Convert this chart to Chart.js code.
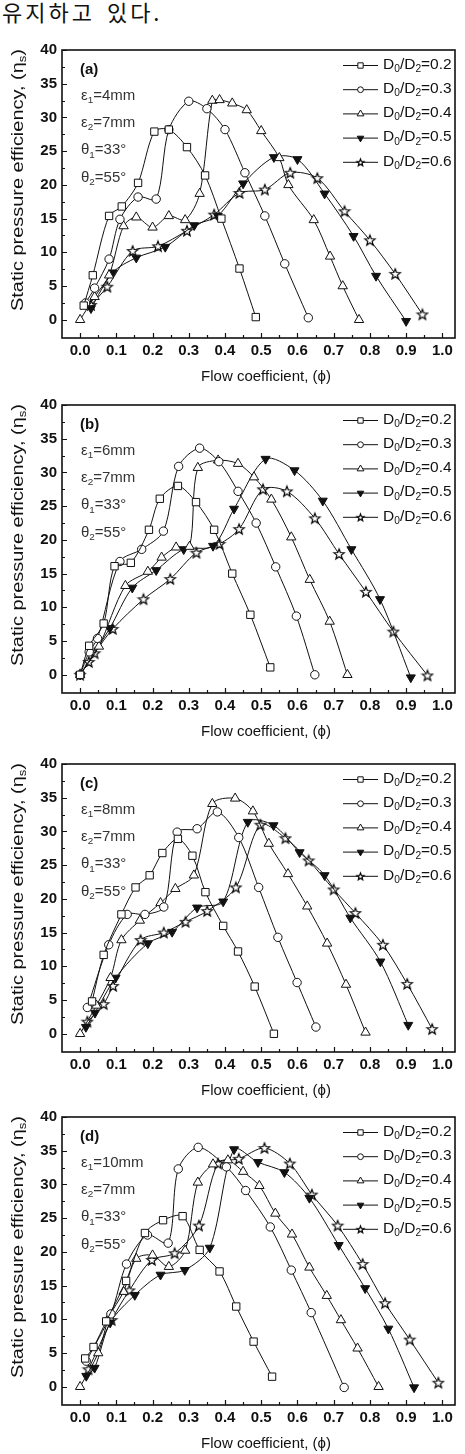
<!DOCTYPE html>
<html>
<head>
<meta charset="utf-8">
<script src="https://cdn.jsdelivr.net/npm/chart.js@4.4.1/dist/chart.umd.min.js"></script>
<style>
    html, body { margin: 0; padding: 0; background: #fff; }
    body { width: 465px; height: 1454px; position: relative; overflow: hidden; }
    #lead { position: absolute; left: 2px; top: 0; font: 22px "Noto Sans CJK KR", sans-serif; line-height: 22px;
            letter-spacing: 3px; word-spacing: 4px; color: #111; white-space: nowrap; }
    .panel { position: absolute; left: 0; width: 465px; height: 352px; }
</style>
</head>
<body>
<div id="lead">유지하고 있다.</div>
<div class="panel" style="top:36px"><canvas id="chart-a" width="465" height="352"></canvas></div>
<div class="panel" style="top:391px"><canvas id="chart-b" width="465" height="352"></canvas></div>
<div class="panel" style="top:750px"><canvas id="chart-c" width="465" height="352"></canvas></div>
<div class="panel" style="top:1103px"><canvas id="chart-d" width="465" height="352"></canvas></div>
<script>
// axis ticks
const xTicks = [0, 0.1, 0.2, 0.3, 0.4, 0.5, 0.6, 0.7, 0.8, 0.9, 1.0];
const yTicks = [0, 5, 10, 15, 20, 25, 30, 35, 40];
const ratioLabels = ['0.2', '0.3', '0.4', '0.5', '0.6'];
const panelLetters = ['(a)', '(b)', '(c)', '(d)'];
const eps1Values = ['4', '6', '8', '10'];

// (a) eps1 = 4mm
const phiA02 = [0.01, 0.035, 0.08, 0.115, 0.16, 0.205, 0.245, 0.295, 0.345, 0.39, 0.44, 0.485];
const effA02 = [2.1, 6.6, 15.4, 16.8, 20.3, 27.9, 28.2, 25.6, 21.4, 15.0, 7.6, 0.4];
const phiA03 = [0.015, 0.04, 0.08, 0.11, 0.16, 0.21, 0.245, 0.30, 0.35, 0.40, 0.455, 0.51, 0.565, 0.63];
const effA03 = [2.5, 4.7, 9.0, 14.9, 18.2, 17.9, 28.2, 32.4, 31.3, 28.2, 21.8, 15.4, 8.3, 0.3];
const phiA04 = [0.0, 0.04, 0.08, 0.12, 0.155, 0.20, 0.245, 0.29, 0.33, 0.365, 0.385, 0.42, 0.46, 0.50, 0.55, 0.575, 0.645, 0.69, 0.725, 0.77];
const effA04 = [0.0, 3.4, 6.6, 13.9, 15.2, 13.7, 15.4, 14.8, 18.7, 32.5, 32.6, 32.1, 31.1, 28.0, 24.0, 20.0, 14.8, 9.4, 5.0, 0.0];
const phiA05 = [0.03, 0.09, 0.155, 0.235, 0.315, 0.38, 0.45, 0.535, 0.60, 0.675, 0.755, 0.817, 0.90];
const effA05 = [1.7, 7.0, 9.2, 10.8, 14.0, 15.4, 20.2, 24.1, 23.8, 18.7, 12.4, 6.5, -0.2];
const phiA06 = [0.03, 0.075, 0.145, 0.215, 0.295, 0.37, 0.44, 0.51, 0.58, 0.655, 0.73, 0.80, 0.87, 0.945];
const effA06 = [2.2, 4.9, 10.2, 10.9, 13.2, 15.6, 18.8, 19.3, 21.8, 21.0, 16.1, 11.8, 6.8, 0.8];

// (b) eps1 = 6mm
const phiB02 = [0.0, 0.025, 0.065, 0.095, 0.14, 0.19, 0.22, 0.27, 0.32, 0.37, 0.42, 0.47, 0.525];
const effB02 = [0, 4.3, 7.6, 16.1, 16.6, 21.5, 26.1, 28.0, 25.6, 21.5, 15.0, 8.9, 1.1];
const phiB03 = [0.0, 0.025, 0.048, 0.11, 0.17, 0.23, 0.272, 0.33, 0.383, 0.436, 0.486, 0.54, 0.597, 0.648];
const effB03 = [0, 3.4, 5.4, 16.8, 18.6, 21.3, 30.9, 33.6, 31.6, 27.2, 22.5, 16.0, 8.7, 0.0];
const phiB04 = [0.0, 0.052, 0.125, 0.187, 0.225, 0.265, 0.302, 0.325, 0.381, 0.436, 0.48, 0.528, 0.583, 0.634, 0.689, 0.738];
const effB04 = [0, 4.2, 13.2, 15.3, 17.4, 18.9, 19.0, 30.7, 31.8, 31.3, 29.3, 26.0, 20.4, 14.1, 7.9, 0.0];
const phiB05 = [0.0, 0.082, 0.144, 0.21, 0.286, 0.367, 0.425, 0.512, 0.592, 0.67, 0.749, 0.828, 0.913];
const effB05 = [0, 6.9, 12.9, 15.5, 18.6, 19.1, 24.6, 32.0, 30.3, 25.8, 18.6, 11.2, -0.4];
const phiB06 = [0.0, 0.024, 0.04, 0.09, 0.175, 0.249, 0.321, 0.385, 0.439, 0.505, 0.571, 0.648, 0.715, 0.789, 0.865, 0.959];
const effB06 = [0, 1.9, 3.2, 6.8, 11.2, 14.2, 18.1, 19.4, 21.6, 27.5, 27.2, 23.2, 17.9, 12.3, 6.4, -0.1];

// (c) eps1 = 8mm
const phiC02 = [0.033, 0.065, 0.114, 0.153, 0.192, 0.227, 0.27, 0.31, 0.346, 0.395, 0.436, 0.482, 0.535];
const effC02 = [4.8, 11.7, 17.7, 21.7, 23.5, 26.8, 28.9, 26.4, 21.0, 16.0, 12.2, 7.0, 0.0];
const phiC03 = [0.02, 0.079, 0.13, 0.179, 0.231, 0.268, 0.323, 0.379, 0.438, 0.493, 0.546, 0.599, 0.651];
const effC03 = [3.9, 13.2, 17.7, 17.7, 18.8, 29.9, 30.4, 32.9, 29.1, 21.7, 14.3, 7.6, 1.0];
const phiC04 = [0.0, 0.045, 0.084, 0.114, 0.165, 0.222, 0.263, 0.314, 0.365, 0.428, 0.477, 0.521, 0.574, 0.627, 0.682, 0.734, 0.788];
const effC04 = [0.0, 4.2, 8.3, 13.9, 16.8, 19.4, 21.5, 23.5, 34.1, 34.9, 33.0, 28.2, 23.7, 18.9, 13.4, 7.3, 0.2];
const phiC05 = [0.016, 0.041, 0.098, 0.187, 0.254, 0.323, 0.395, 0.463, 0.534, 0.606, 0.675, 0.746, 0.829, 0.906];
const effC05 = [1.0, 3.1, 8.3, 13.4, 15.1, 18.7, 19.6, 31.4, 30.9, 26.9, 23.5, 17.2, 10.7, 1.3];
const phiC06 = [0.02, 0.065, 0.091, 0.167, 0.231, 0.291, 0.351, 0.43, 0.498, 0.567, 0.631, 0.70, 0.76, 0.836, 0.903, 0.972];
const effC06 = [1.8, 4.4, 7.1, 13.9, 15.0, 16.6, 18.2, 21.7, 31.0, 29.0, 25.7, 21.4, 17.9, 13.2, 7.4, 0.7];

// (d) eps1 = 10mm
const phiD02 = [0.014, 0.037, 0.072, 0.127, 0.179, 0.229, 0.283, 0.33, 0.385, 0.431, 0.479, 0.53];
const effD02 = [4.2, 5.9, 9.7, 15.7, 22.8, 24.7, 25.3, 20.3, 17.1, 11.9, 6.7, 1.5];
const phiD03 = [0.017, 0.085, 0.128, 0.186, 0.243, 0.271, 0.326, 0.404, 0.457, 0.525, 0.583, 0.638, 0.729];
const effD03 = [3.8, 10.8, 18.2, 22.5, 21.3, 32.3, 35.5, 32.6, 29.1, 23.7, 17.3, 11.0, -0.1];
const phiD04 = [0.0, 0.05, 0.08, 0.12, 0.155, 0.20, 0.245, 0.29, 0.325, 0.367, 0.408, 0.45, 0.495, 0.539, 0.585, 0.633, 0.681, 0.72, 0.766, 0.824];
const effD04 = [0.0, 5.0, 10.3, 14.1, 19.0, 19.5, 17.8, 20.2, 30.3, 33.0, 33.6, 31.9, 29.8, 25.7, 22.6, 17.7, 13.5, 9.9, 5.7, 0.0];
const phiD05 = [0.017, 0.04, 0.083, 0.151, 0.222, 0.289, 0.358, 0.425, 0.491, 0.564, 0.633, 0.714, 0.787, 0.851, 0.922];
const effD05 = [1.6, 2.8, 9.5, 13.6, 16.6, 17.3, 20.6, 35.2, 33.3, 31.8, 28.0, 21.0, 14.6, 8.6, -0.1];
const phiD06 = [0.023, 0.087, 0.136, 0.198, 0.261, 0.328, 0.381, 0.438, 0.509, 0.579, 0.64, 0.711, 0.78, 0.842, 0.91, 0.989];
const effD06 = [2.6, 9.9, 14.3, 18.8, 19.8, 23.9, 33.1, 33.8, 35.4, 33.1, 28.5, 23.9, 18.2, 12.4, 7.0, 0.6];

const panels = [
    { id: 'chart-a', phi: [phiA02, phiA03, phiA04, phiA05, phiA06], eff: [effA02, effA03, effA04, effA05, effA06] },
    { id: 'chart-b', phi: [phiB02, phiB03, phiB04, phiB05, phiB06], eff: [effB02, effB03, effB04, effB05, effB06] },
    { id: 'chart-c', phi: [phiC02, phiC03, phiC04, phiC05, phiC06], eff: [effC02, effC03, effC04, effC05, effC06] },
    { id: 'chart-d', phi: [phiD02, phiD03, phiD04, phiD05, phiD06], eff: [effD02, effD03, effD04, effD05, effD06] },
];

const INK = '#111';
const FONT = '"Liberation Sans", Arial, sans-serif';

// open five-point star used for D0/D2=0.6
function makeStar(outer, inner) {
    const s = Math.ceil(outer * 2 + 3);
    const cv = document.createElement('canvas');
    cv.width = s; cv.height = s;
    const c = cv.getContext('2d');
    c.beginPath();
    for (let i = 0; i < 10; i++) {
        const r = i % 2 ? inner : outer;
        const a = -Math.PI / 2 + i * Math.PI / 5;
        c.lineTo(s / 2 + r * Math.cos(a), s / 2 + 0.4 + r * Math.sin(a));
    }
    c.closePath();
    c.fillStyle = '#fff'; c.fill();
    c.strokeStyle = '#000'; c.lineWidth = 1.2; c.stroke();
    return cv;
}
const starImg = makeStar(5.4, 2.3);
const starSmall = makeStar(3.8, 1.6);

const markers = [
    { pointStyle: 'rect', radius: 5.2, rotation: 0, fill: '#fff' },
    { pointStyle: 'circle', radius: 4.2, rotation: 0, fill: '#fff' },
    { pointStyle: 'triangle', radius: 5.4, rotation: 0, fill: '#fff' },
    { pointStyle: 'triangle', radius: 5.2, rotation: 180, fill: INK },
    { pointStyle: starImg, radius: 5, rotation: 0, fill: '#fff' },
];
const legendMarkers = [
    { pointStyle: 'rect', radius: 3.8 },
    { pointStyle: 'circle', radius: 2.9 },
    { pointStyle: 'triangle', radius: 3.9 },
    { pointStyle: 'triangle', radius: 3.8, rotation: 180 },
    { pointStyle: starSmall, radius: 3.5 },
];

// text with subscript pieces: [text, 'n' | 'sub']
function richWidth(ctx, parts, size) {
    let w = 0;
    parts.forEach(([t, k]) => {
        ctx.font = `${k === 'sub' ? size * 0.66 : size}px ${FONT}`;
        w += ctx.measureText(t).width;
    });
    return w;
}
function drawRich(ctx, parts, x, y, size) {
    ctx.textBaseline = 'middle';
    ctx.textAlign = 'left';
    parts.forEach(([t, k]) => {
        const sub = k === 'sub';
        ctx.font = `${sub ? size * 0.66 : size}px ${FONT}`;
        ctx.fillText(t, x, sub ? y + size * 0.3 : y);
        x += ctx.measureText(t).width;
    });
}

const decor = {
    id: 'decor',
    afterDraw(chart, args, opts) {
        const { ctx, chartArea: a, scales: { x, y } } = chart;
        ctx.save();
        ctx.strokeStyle = INK;
        ctx.fillStyle = INK;

        // inward ticks, majors and minors
        ctx.lineWidth = 1.2;
        ctx.beginPath();
        for (let v = 0; v <= 1.0001; v += 0.05) {
            const px = Math.round(x.getPixelForValue(v)) + 0.5;
            const len = Math.abs(v * 10 - Math.round(v * 10)) < 1e-6 ? 5 : 3;
            ctx.moveTo(px, a.bottom); ctx.lineTo(px, a.bottom - len);
        }
        for (let v = 0; v <= 40; v += 2.5) {
            const py = Math.round(y.getPixelForValue(v)) + 0.5;
            const len = v % 5 === 0 ? 5 : 3;
            ctx.moveTo(a.left, py); ctx.lineTo(a.left + len, py);
        }
        ctx.stroke();

        // frame
        ctx.lineWidth = 1.6;
        ctx.strokeRect(a.left, a.top, a.right - a.left, a.bottom - a.top);

        // axis titles
        ctx.font = `15px ${FONT}`;
        ctx.textAlign = 'center';
        ctx.textBaseline = 'middle';
        ctx.fillText('Flow coefficient, (\u03d5)', 266, a.bottom + 39);

        const yParts = [['Static pressure efficiency, (\u03b7', 'n'], ['s', 'sub'], [')', 'n']];
        const yw = richWidth(ctx, yParts, 16);
        ctx.save();
        ctx.translate(18.5, (a.top + a.bottom) / 2 - 14);
        ctx.rotate(-Math.PI / 2);
        ctx.scale(262 / yw, 1);
        drawRich(ctx, yParts, -yw / 2, 0, 16);
        ctx.restore();

        // legend
        chart.data.datasets.forEach((ds, i) => {
            const ly = a.top + 15.5 + i * 24.2;
            ctx.strokeStyle = INK;
            ctx.lineWidth = 1;
            ctx.beginPath();
            ctx.moveTo(343, ly); ctx.lineTo(378, ly);
            ctx.stroke();
            const lm = legendMarkers[i];
            ctx.fillStyle = markers[i].fill;
            if (Chart.helpers && Chart.helpers.drawPoint) {
                Chart.helpers.drawPoint(ctx, { pointStyle: lm.pointStyle, radius: lm.radius, rotation: lm.rotation || 0, borderWidth: 1 }, 360.5, ly);
            }
            ctx.fillStyle = INK;
            drawRich(ctx, [['D', 'n'], ['0', 'sub'], ['/D', 'n'], ['2', 'sub'], ['=' + ratioLabels[i], 'n']], 383, ly - 1, 15.5);
        });

        // condition notes
        ctx.font = `bold 15px ${FONT}`;
        ctx.textAlign = 'left';
        ctx.fillText(opts.letter, 80, a.top + 20);
        ctx.fillStyle = '#333';
        const notes = [
            [['\u03b5', 'n'], ['1', 'sub'], ['=' + opts.eps1 + 'mm', 'n']],
            [['\u03b5', 'n'], ['2', 'sub'], ['=7mm', 'n']],
            [['\u03b8', 'n'], ['1', 'sub'], ['=33\u00b0', 'n']],
            [['\u03b8', 'n'], ['2', 'sub'], ['=55\u00b0', 'n']],
        ];
        notes.forEach((p, i) => drawRich(ctx, p, 81, a.top + 45.5 + i * 27.4, 15));
        ctx.restore();
    }
};

function pts(xs, ys) {
    return xs.map((v, i) => ({ x: v, y: ys[i] }));
}

panels.forEach((p, k) => {
    const datasets = p.phi.map((xs, i) => ({
        label: 'D0/D2=' + ratioLabels[i],
        data: pts(xs, p.eff[i]),
        borderColor: INK,
        borderWidth: 1,
        tension: 0.3,
        pointStyle: markers[i].pointStyle,
        pointRadius: markers[i].radius,
        rotation: markers[i].rotation,
        pointBackgroundColor: markers[i].fill,
        pointBorderColor: INK,
        pointBorderWidth: 1,
    }));

    new Chart(document.getElementById(p.id).getContext('2d'), {
        type: 'line',
        data: { datasets },
        plugins: [decor],
        options: {
            responsive: false,
            animation: false,
            events: [],
            layout: { padding: { top: 12, right: 10, left: 0, bottom: 0 } },
            plugins: {
                legend: { display: false },
                tooltip: { enabled: false },
                decor: { letter: panelLetters[k], eps1: eps1Values[k] },
            },
            scales: {
                x: {
                    type: 'linear',
                    min: -0.05, max: 1.035,
                    grid: { display: false, drawTicks: false },
                    border: { display: false },
                    afterBuildTicks: s => { s.ticks = xTicks.map(v => ({ value: v })); },
                    afterFit: s => { s.height = 50; },
                    ticks: {
                        autoSkip: false, maxRotation: 0, padding: 4, color: INK,
                        font: { family: FONT, size: 15, weight: 'bold' },
                        callback: v => v.toFixed(1),
                    },
                },
                y: {
                    min: -2.7, max: 40,
                    grid: { display: false, drawTicks: false },
                    border: { display: false },
                    afterBuildTicks: s => { s.ticks = yTicks.map(v => ({ value: v })); },
                    afterFit: s => { s.width = 62; },
                    ticks: {
                        padding: 5, color: INK,
                        font: { family: FONT, size: 15, weight: 'bold' },
                    },
                },
            },
        },
    });
});
</script>
</body>
</html>
